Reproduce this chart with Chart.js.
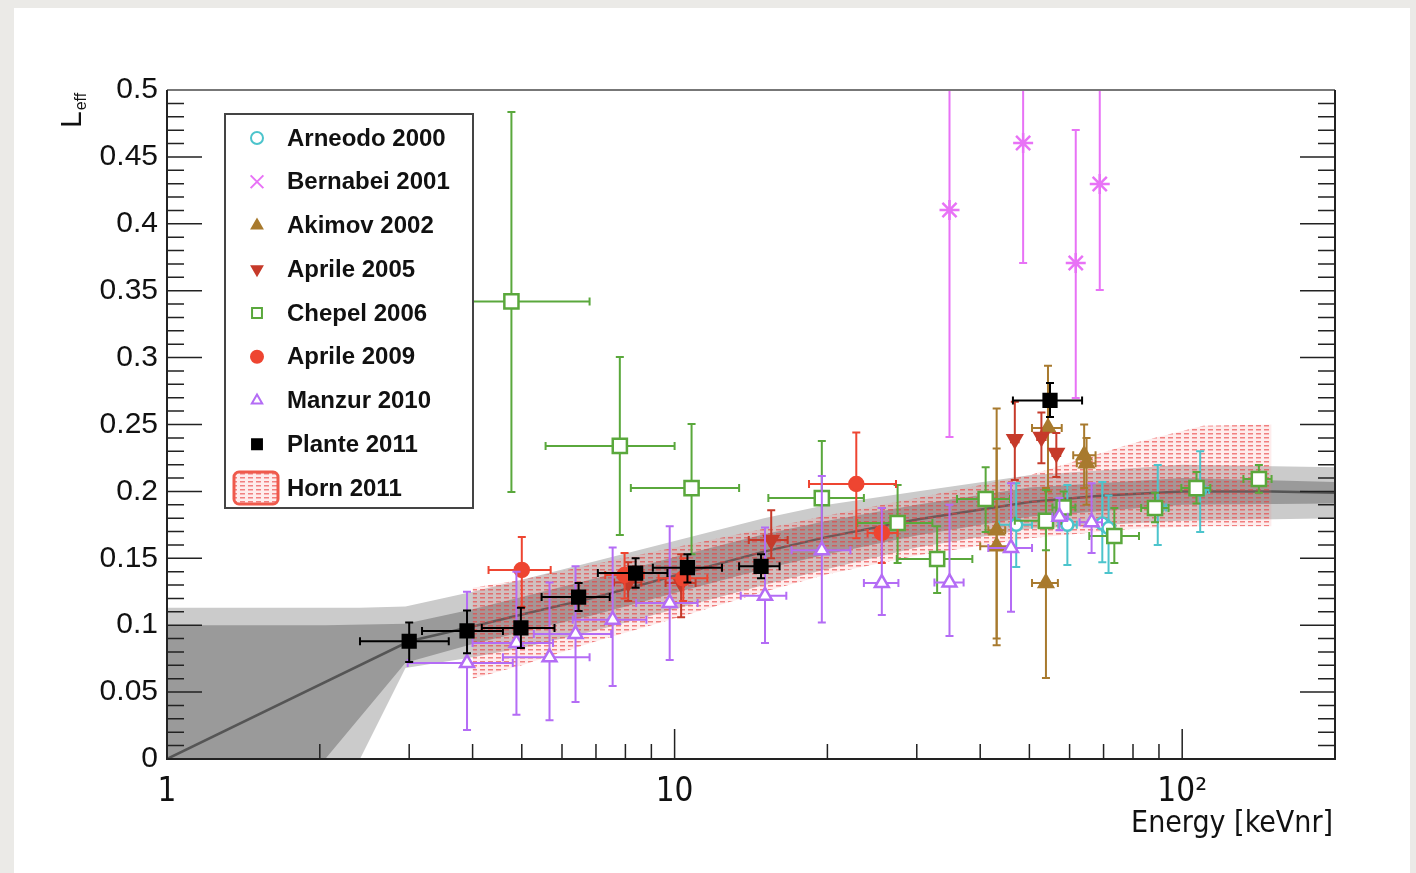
<!DOCTYPE html>
<html>
<head>
<meta charset="utf-8">
<script src="https://cdn.jsdelivr.net/npm/chart.js@4.4.1/dist/chart.umd.min.js"></script>
<style>
html, body { margin: 0; padding: 0; background: #ebeae7; }
canvas { display: block; }
</style>
</head>
<body>
<canvas id="leff" width="1416" height="873"></canvas>
<script>
// rows: [E, E low, E high, Leff, Leff low, Leff high]
const arneodo = [
    [47.1, 43.6, 50.6, 0.175, 0.1435, 0.206],
    [59.4, 57.0, 62.0, 0.175, 0.145, 0.2048],
    [69.6, 67.5, 71.8, 0.176, 0.147, 0.207],
    [71.6, 69.5, 73.8, 0.1726, 0.139, 0.197],
    [89.5, 86.0, 93.0, 0.188, 0.16, 0.2197],
    [108.5, 104, 113, 0.201, 0.1697, 0.23]
];
const bernabei = [
    [34.8, 34.8, 34.8, 0.4103, 0.2407, 0.6],
    [48.6, 48.6, 48.6, 0.4604, 0.3707, 0.6],
    [61.7, 61.7, 61.7, 0.3707, 0.2698, 0.4701],
    [68.8, 68.8, 68.8, 0.4297, 0.3505, 0.6]
];
const akimov = [
    [43.1, 41.5, 44.8, 0.171, 0.085, 0.262],
    [43.1, 40.0, 46.4, 0.159, 0.09, 0.232],
    [53.9, 50.6, 56.9, 0.1315, 0.0605, 0.2025],
    [54.4, 50.6, 57.9, 0.2474, 0.2, 0.294],
    [64.1, 61.0, 67.5, 0.227, 0.2025, 0.25],
    [64.8, 62.0, 67.5, 0.221, 0.19, 0.24]
];
const aprile05 = [
    [8.1, 7.6, 8.6, 0.132, 0.118, 0.147],
    [10.3, 9.6, 11.0, 0.1315, 0.106, 0.153],
    [15.5, 14.0, 16.7, 0.1637, 0.15, 0.186],
    [46.8, 46.0, 47.6, 0.239, 0.2085, 0.267],
    [52.8, 51.8, 53.8, 0.2407, 0.221, 0.259],
    [56.5, 55.5, 57.5, 0.2287, 0.2108, 0.2437]
];
const chepel = [
    [4.77, 3.35, 6.8, 0.342, 0.1996, 0.4836],
    [7.8, 5.57, 10.0, 0.234, 0.1674, 0.3005],
    [10.8, 8.2, 13.4, 0.2025, 0.153, 0.2504],
    [19.5, 15.3, 23.6, 0.195, 0.155, 0.2377],
    [27.5, 22.9, 32.2, 0.1764, 0.1465, 0.2048],
    [32.9, 27.4, 38.6, 0.1495, 0.124, 0.174],
    [41.0, 36.0, 45.8, 0.1943, 0.1697, 0.218],
    [53.9, 46.8, 57.7, 0.178, 0.156, 0.201],
    [58.4, 55.5, 61.6, 0.188, 0.179, 0.2],
    [73.5, 65.6, 82.2, 0.1667, 0.1465, 0.1876],
    [88.4, 83.0, 94.0, 0.1876, 0.177, 0.199],
    [106.7, 99.6, 113.6, 0.2025, 0.191, 0.2145],
    [141.6, 132, 150, 0.2093, 0.199, 0.2197]
];
const aprile09 = [
    [5.0, 4.3, 5.7, 0.1413, 0.1136, 0.166],
    [7.97, 7.3, 8.7, 0.1375, 0.12, 0.154],
    [10.4, 9.3, 11.6, 0.135, 0.118, 0.15],
    [22.8, 18.4, 27.3, 0.2055, 0.165, 0.244],
    [25.6, 24.0, 27.5, 0.169, 0.1465, 0.1876]
];
const manzur = [
    [3.9, 2.98, 4.8, 0.0717, 0.0217, 0.125],
    [4.88, 4.0, 5.76, 0.0867, 0.033, 0.14],
    [5.67, 4.59, 6.8, 0.076, 0.029, 0.132],
    [6.38, 5.28, 7.5, 0.0934, 0.0426, 0.144],
    [7.55, 6.3, 8.8, 0.104, 0.0546, 0.158],
    [9.78, 8.4, 11.1, 0.1166, 0.074, 0.174],
    [15.07, 13.5, 16.6, 0.122, 0.0867, 0.173],
    [19.5, 17.0, 22.2, 0.156, 0.102, 0.2115],
    [25.6, 23.6, 27.6, 0.1315, 0.1076, 0.1876],
    [34.8, 32.5, 37.1, 0.132, 0.092, 0.19],
    [46.0, 41.5, 50.6, 0.1577, 0.11, 0.206],
    [57.3, 55.5, 59.5, 0.181, 0.171, 0.195],
    [66.3, 62.8, 69.5, 0.177, 0.154, 0.206]
];
const plante = [
    [3.0, 2.4, 3.59, 0.088, 0.0725, 0.102],
    [3.9, 3.18, 4.59, 0.0957, 0.079, 0.111],
    [4.98, 4.17, 5.8, 0.098, 0.083, 0.113],
    [6.47, 5.47, 7.45, 0.121, 0.1106, 0.1315],
    [8.38, 7.06, 9.68, 0.139, 0.128, 0.15],
    [10.6, 9.06, 12.4, 0.143, 0.132, 0.153],
    [14.8, 13.4, 16.1, 0.144, 0.135, 0.153],
    [54.9, 46.4, 63.5, 0.268, 0.2556, 0.281]
];

// Plante 2011 fit: outer and inner uncertainty bands plus central curve
const outerE  = [1, 2.4, 2.95, 4, 5, 7, 10, 15, 20, 30, 50, 100, 200];
const outerLo = [0, 0, 0.068, 0.076, 0.083, 0.096, 0.112, 0.13, 0.142, 0.158, 0.172, 0.178, 0.18];
const outerHi = [0.113, 0.113, 0.114, 0.125, 0.134, 0.148, 0.163, 0.18, 0.19, 0.2, 0.212, 0.22, 0.218];
const innerE  = [1, 2.05, 2.95, 4, 5, 7, 10, 15, 20, 30, 50, 100, 200];
const innerLo = [0, 0, 0.072, 0.086, 0.095, 0.108, 0.124, 0.142, 0.153, 0.167, 0.181, 0.19, 0.191];
const innerHi = [0.1, 0.1, 0.101, 0.112, 0.121, 0.135, 0.151, 0.168, 0.178, 0.19, 0.203, 0.21, 0.207];
const fitE = [1, 3, 4, 5, 7, 10, 15, 20, 30, 50, 70, 100, 150, 200];
const fitL = [0, 0.088, 0.099, 0.108, 0.121, 0.137, 0.155, 0.166, 0.179, 0.192, 0.197, 0.2, 0.2, 0.199];

// Horn 2011 band
const hornE  = [4, 5, 7, 10, 15, 20, 30, 50, 80, 110, 150];
const hornLo = [0.06, 0.07, 0.088, 0.105, 0.125, 0.138, 0.152, 0.165, 0.172, 0.174, 0.174];
const hornHi = [0.128, 0.134, 0.146, 0.158, 0.172, 0.182, 0.195, 0.212, 0.236, 0.249, 0.25];

const xLabels = {1: '1', 10: '10', 100: '10\u00b2'};

const NARROW = '"Liberation Sans Narrow", "DejaVu Sans Condensed", "Liberation Sans", sans-serif';
const SANS = '"Liberation Sans", Arial, sans-serif';

function pts(xs, ys) {
    return xs.map((x, i) => ({x: x, y: ys[i]}));
}

function hatchPattern() {
    const c = document.createElement('canvas');
    c.width = 8;
    c.height = 4;
    const g = c.getContext('2d');
    g.fillStyle = 'rgba(245,120,120,0.14)';
    g.fillRect(0, 0, 8, 4);
    g.fillStyle = 'rgba(232,60,60,0.62)';
    g.fillRect(0, 1, 5, 1.5);
    return g.createPattern(c, 'repeat');
}
const hatch = hatchPattern();

const series = [
    {label: 'Arneodo 2000', rows: arneodo, color: '#4cc4cc', style: 'circle', r: 6, hollow: true, rot: 0, order: 9},
    {label: 'Bernabei 2001', rows: bernabei, color: '#e872f6', style: 'star', r: 10, hollow: false, rot: 0, order: 8},
    {label: 'Akimov 2002', rows: akimov, color: '#a87a2e', style: 'triangle', r: 8, hollow: false, rot: 0, order: 7},
    {label: 'Aprile 2005', rows: aprile05, color: '#c63a2a', style: 'triangle', r: 8, hollow: false, rot: 180, order: 6},
    {label: 'Chepel 2006', rows: chepel, color: '#5aa83c', style: 'rect', r: 10, hollow: true, rot: 0, order: 5},
    {label: 'Aprile 2009', rows: aprile09, color: '#ee4531', style: 'circle', r: 7, hollow: false, rot: 0, order: 4},
    {label: 'Manzur 2010', rows: manzur, color: '#b46cf5', style: 'triangle', r: 8, hollow: true, rot: 0, order: 3},
    {label: 'Plante 2011', rows: plante, color: '#000000', style: 'rect', r: 9, hollow: false, rot: 0, order: 1}
];

function band(xs, lo, hi, color, order) {
    return [
        {type: 'line', data: pts(xs, lo), showLine: true, borderWidth: 0, pointRadius: 0, fill: false, order: order},
        {type: 'line', data: pts(xs, hi), showLine: true, borderWidth: 0, pointRadius: 0, fill: '-1', backgroundColor: color, order: order}
    ];
}

const datasets = [].concat(
    band(outerE, outerLo, outerHi, '#cbcbcb', 50),
    band(innerE, innerLo, innerHi, '#9a9a9a', 40),
    [{type: 'line', data: pts(fitE, fitL), showLine: true, borderColor: '#555555', borderWidth: 2.5, pointRadius: 0, fill: false, order: 30}],
    band(hornE, hornLo, hornHi, hatch, 20),
    series.map(s => ({
        label: s.label,
        data: s.rows.map(r => ({x: r[0], y: r[3]})),
        errs: s.rows,
        errColor: s.color,
        pointStyle: s.style,
        pointRadius: s.r,
        pointRotation: s.rot,
        pointBorderWidth: 2.5,
        pointBorderColor: s.color,
        pointBackgroundColor: s.hollow ? '#ffffff' : s.color,
        order: s.order
    }))
);

function drawErrors(chart, ds) {
    const ctx = chart.ctx, xs = chart.scales.x, ys = chart.scales.y, a = chart.chartArea;
    const cap = 4;
    ctx.save();
    ctx.beginPath();
    ctx.rect(a.left, a.top, a.right - a.left, a.bottom - a.top);
    ctx.clip();
    ctx.strokeStyle = ds.errColor;
    ctx.lineWidth = 2;
    ds.errs.forEach(r => {
        const x = xs.getPixelForValue(r[0]), y = ys.getPixelForValue(r[3]);
        const x0 = xs.getPixelForValue(r[1]), x1 = xs.getPixelForValue(r[2]);
        const y0 = ys.getPixelForValue(r[4]), y1 = ys.getPixelForValue(r[5]);
        ctx.beginPath();
        if (x1 - x0 > 1) {
            ctx.moveTo(x0, y); ctx.lineTo(x1, y);
            ctx.moveTo(x0, y - cap); ctx.lineTo(x0, y + cap);
            ctx.moveTo(x1, y - cap); ctx.lineTo(x1, y + cap);
        }
        ctx.moveTo(x, y0); ctx.lineTo(x, y1);
        ctx.moveTo(x - cap, y0); ctx.lineTo(x + cap, y0);
        ctx.moveTo(x - cap, y1); ctx.lineTo(x + cap, y1);
        ctx.stroke();
    });
    ctx.restore();
}

function drawLegend(ctx) {
    const left = 225, top = 114, w = 248, h = 394;
    ctx.save();
    ctx.fillStyle = '#ffffff';
    ctx.fillRect(left, top, w, h);
    ctx.strokeStyle = '#444444';
    ctx.lineWidth = 2;
    ctx.strokeRect(left, top, w, h);
    ctx.font = 'bold 24px ' + SANS;
    ctx.textBaseline = 'middle';
    const rowY = i => 138 + i * 43.75;
    series.forEach((s, i) => {
        const y = rowY(i);
        ctx.fillStyle = s.hollow ? '#ffffff' : s.color;
        ctx.strokeStyle = s.color;
        const style = s.style === 'star' ? 'crossRot' : s.style;
        const r = s.style === 'star' ? 9 : (s.style === 'rect' ? 7 : 6);
        Chart.helpers.drawPoint(ctx, {pointStyle: style, radius: r, rotation: s.rot, borderWidth: 2}, 257, y);
        ctx.fillStyle = '#111111';
        ctx.fillText(s.label, 287, y + 1);
    });
    // Horn 2011 entry
    const y = rowY(8);
    ctx.beginPath();
    ctx.roundRect(234, y - 16, 44, 32, 5);
    ctx.fillStyle = '#ffffff';
    ctx.fill();
    ctx.fillStyle = hatch;
    ctx.fill();
    ctx.strokeStyle = '#ef5a4c';
    ctx.lineWidth = 3;
    ctx.stroke();
    ctx.fillStyle = '#111111';
    ctx.fillText('Horn 2011', 287, y + 1);
    ctx.restore();
}

const frame = {
    id: 'frame',
    beforeDraw(chart) {
        const ctx = chart.ctx;
        ctx.save();
        ctx.fillStyle = '#ebeae7';
        ctx.fillRect(0, 0, chart.width, chart.height);
        ctx.fillStyle = '#ffffff';
        ctx.fillRect(14, 8, chart.width - 20, chart.height - 8);
        ctx.restore();
    },
    beforeDatasetDraw(chart, args) {
        const ds = chart.data.datasets[args.index];
        if (ds.errs) drawErrors(chart, ds);
    },
    afterDraw(chart) {
        const ctx = chart.ctx, a = chart.chartArea, xs = chart.scales.x, ys = chart.scales.y;
        ctx.save();
        ctx.strokeStyle = '#222222';
        ctx.lineWidth = 1.5;
        ctx.beginPath();
        // y ticks on both sides, every 0.01 with majors at 0.05
        for (let i = 0; i <= 50; i++) {
            const y = ys.getPixelForValue(i / 100);
            const len = i % 5 === 0 ? 35 : 17;
            ctx.moveTo(a.left, y); ctx.lineTo(a.left + len, y);
            ctx.moveTo(a.right, y); ctx.lineTo(a.right - len, y);
        }
        // log x ticks along the bottom
        [1, 10, 100].forEach(d => {
            for (let k = 1; k <= 9; k++) {
                const v = d * k;
                if (v > 200) return;
                const x = xs.getPixelForValue(v);
                const len = k === 1 ? 30 : 15;
                ctx.moveTo(x, a.bottom); ctx.lineTo(x, a.bottom - len);
            }
        });
        ctx.stroke();

        ctx.lineWidth = 2;
        ctx.strokeStyle = '#777777';
        ctx.beginPath();
        ctx.moveTo(a.left, a.top); ctx.lineTo(a.right, a.top);
        ctx.stroke();
        ctx.strokeStyle = '#222222';
        ctx.beginPath();
        ctx.moveTo(a.left, a.top); ctx.lineTo(a.left, a.bottom); ctx.lineTo(a.right, a.bottom); ctx.lineTo(a.right, a.top);
        ctx.stroke();

        // axis titles
        ctx.fillStyle = '#111111';
        ctx.font = '30px ' + NARROW;
        ctx.textAlign = 'right';
        ctx.textBaseline = 'alphabetic';
        ctx.fillText('Energy [keVnr]', a.right - 2, 832);

        ctx.translate(81, 128);
        ctx.rotate(-Math.PI / 2);
        ctx.textAlign = 'left';
        ctx.font = '30px ' + SANS;
        ctx.fillText('L', 0, 0);
        const wL = ctx.measureText('L').width;
        ctx.font = '16px ' + SANS;
        ctx.fillText('eff', wL + 1, 5);
        ctx.setTransform(1, 0, 0, 1, 0, 0);

        drawLegend(ctx);
        ctx.restore();
    }
};

new Chart(document.getElementById('leff').getContext('2d'), {
    type: 'scatter',
    data: {datasets: datasets},
    options: {
        responsive: false,
        animation: false,
        events: [],
        layout: {padding: {left: 0, top: 90, right: 81, bottom: 0}},
        plugins: {legend: {display: false}, tooltip: {enabled: false}},
        scales: {
            x: {
                type: 'logarithmic',
                min: 1,
                max: 200,
                grid: {display: false, drawTicks: false},
                border: {display: false},
                afterFit: s => { s.height = 114; },
                ticks: {
                    autoSkip: false,
                    maxRotation: 0,
                    minRotation: 0,
                    padding: 14,
                    color: '#111111',
                    font: {family: NARROW, size: 33},
                    callback: v => xLabels[v] || ''
                }
            },
            y: {
                type: 'linear',
                min: 0,
                max: 0.5,
                grid: {display: false, drawTicks: false},
                border: {display: false},
                afterFit: s => { s.width = 167; },
                ticks: {
                    stepSize: 0.05,
                    padding: 9,
                    color: '#111111',
                    font: {family: SANS, size: 30},
                    callback: v => String(+v.toFixed(2))
                }
            }
        }
    },
    plugins: [frame]
});
</script>
</body>
</html>
